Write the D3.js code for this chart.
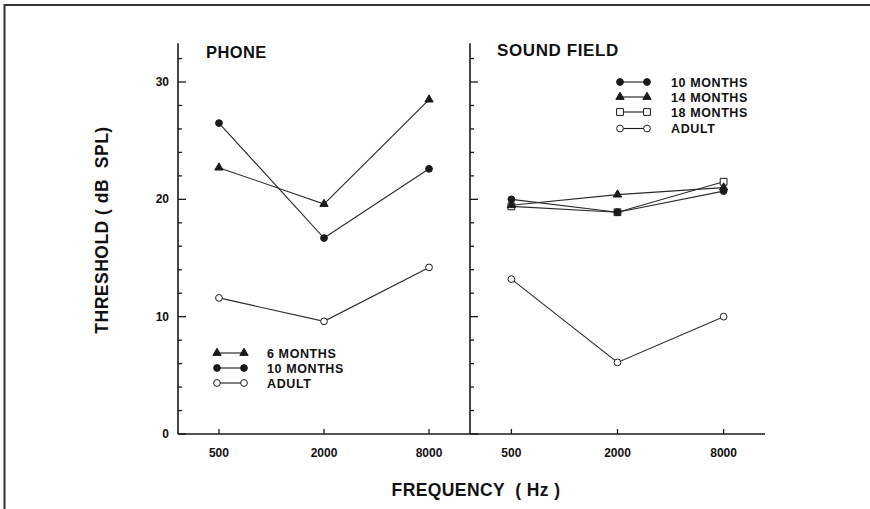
<!DOCTYPE html>
<html>
<head>
<meta charset="utf-8">
<script src="https://cdn.jsdelivr.net/npm/d3@7"></script>
<style>
  html, body { margin: 0; padding: 0; background: #fff; }
  svg { display: block; }
  text { font-family: "Liberation Sans", Arial, sans-serif; font-weight: bold; fill: #111; }
</style>
</head>
<body>
<script>
// Test frequencies (Hz) shared by both panels
const frequencies = ["500", "2000", "8000"];
const yTickValues = [0, 10, 20, 30];

// PHONE panel thresholds (dB SPL)
const phoneLabels = ["6 MONTHS", "10 MONTHS", "ADULT"];
const phone6Months = [22.7, 19.6, 28.5];
const phone10Months = [26.5, 16.7, 22.6];
const phoneAdult = [11.6, 9.6, 14.2];

// SOUND FIELD panel thresholds (dB SPL)
const fieldLabels = ["10 MONTHS", "14 MONTHS", "18 MONTHS", "ADULT"];
const field10Months = [20.0, 18.9, 20.7];
const field14Months = [19.5, 20.4, 21.0];
const field18Months = [19.4, 18.9, 21.5];
const fieldAdult = [13.2, 6.1, 10.0];

const W = 870, H = 509;
const svg = d3.select("body").append("svg").attr("width", W).attr("height", H);

const ink = "#1a1a1a";

// page frame (top and left rules)
svg.append("path")
  .attr("d", `M4.5,${H} V5 H${W}`)
  .attr("fill", "none").attr("stroke", "#333").attr("stroke-width", 2);

// shared vertical scale
const y = d3.scaleLinear().domain([0, 30]).range([434, 82]);
const yAxisTop = 33.3;

// one point scale per panel
const xPhone = d3.scalePoint().domain(frequencies).range([178, 470]).padding(0.39);
const xField = d3.scalePoint().domain(frequencies).range([470, 765]).padding(0.39);

const markers = {
  triangle: { type: d3.symbolTriangle, size: 30, fill: ink },
  dot:      { type: d3.symbolCircle,   size: 36, fill: ink },
  circle:   { type: d3.symbolCircle,   size: 36, fill: "#fff" },
  square:   { type: d3.symbolSquare,   size: 46, fill: "#fff" }
};

function drawPanel(x, left, right, showLabels) {
  const g = svg.append("g");
  // left axis with inward ticks every 2 dB
  const minor = d3.range(0, 34, 2);
  g.append("line")
    .attr("x1", left).attr("x2", left)
    .attr("y1", y(0)).attr("y2", y(yAxisTop))
    .attr("stroke", ink).attr("stroke-width", 1.6);
  g.selectAll(".ytick").data(minor).join("line")
    .attr("x1", left).attr("x2", d => left + (d % 10 === 0 ? 8 : 4))
    .attr("y1", d => y(d)).attr("y2", d => y(d))
    .attr("stroke", ink).attr("stroke-width", 1.3);
  if (showLabels) {
    g.selectAll(".ylab").data(yTickValues).join("text")
      .attr("x", left - 9).attr("y", d => y(d) + 4)
      .attr("text-anchor", "end").attr("font-size", 12)
      .text(d => d);
  }
  // bottom axis with short upward ticks
  g.append("line")
    .attr("x1", left).attr("x2", right)
    .attr("y1", y(0)).attr("y2", y(0))
    .attr("stroke", ink).attr("stroke-width", 1.6);
  g.selectAll(".xtick").data(frequencies).join("line")
    .attr("x1", d => x(d)).attr("x2", d => x(d))
    .attr("y1", y(0)).attr("y2", y(0) - 5)
    .attr("stroke", ink).attr("stroke-width", 1.3);
  g.selectAll(".xlab").data(frequencies).join("text")
    .attr("x", d => x(d)).attr("y", y(0) + 23)
    .attr("text-anchor", "middle").attr("font-size", 12)
    .text(d => d);
  return g;
}

function drawSeries(g, x, values, marker) {
  const pts = values.map((v, i) => [x(frequencies[i]), y(v)]);
  g.append("path")
    .attr("d", d3.line()(pts))
    .attr("fill", "none").attr("stroke", "#2a2a2a").attr("stroke-width", 1.1);
  const m = markers[marker];
  g.selectAll(null).data(pts).join("path")
    .attr("transform", d => `translate(${d[0]},${d[1]})`)
    .attr("d", d3.symbol().type(m.type).size(m.size))
    .attr("fill", m.fill).attr("stroke", ink).attr("stroke-width", 1);
}

function drawLegend(g, entries, x0, y0, dy, textX) {
  entries.forEach((e, i) => {
    const yy = y0 + i * dy[i];
    g.append("line").attr("x1", x0).attr("x2", x0 + 27)
      .attr("y1", yy).attr("y2", yy).attr("stroke", ink).attr("stroke-width", 1.1);
    const m = markers[e.marker];
    [x0, x0 + 27].forEach(px => {
      g.append("path")
        .attr("transform", `translate(${px},${yy})`)
        .attr("d", d3.symbol().type(m.type).size(m.size))
        .attr("fill", m.fill).attr("stroke", ink).attr("stroke-width", 1);
    });
    g.append("text").attr("x", textX).attr("y", yy + 4.5)
      .attr("font-size", 12.5).attr("letter-spacing", 0.6)
      .text(e.label);
  });
}

// PHONE panel
const gPhone = drawPanel(xPhone, 178, 470, true);
drawSeries(gPhone, xPhone, phoneAdult, "circle");
drawSeries(gPhone, xPhone, phone10Months, "dot");
drawSeries(gPhone, xPhone, phone6Months, "triangle");
gPhone.append("text").attr("x", 206).attr("y", 58).attr("font-size", 16.5)
  .attr("letter-spacing", 0.4).text("PHONE");
drawLegend(gPhone, [
  { label: phoneLabels[0], marker: "triangle" },
  { label: phoneLabels[1], marker: "dot" },
  { label: phoneLabels[2], marker: "circle" }
], 217, 353, [15, 15, 15], 267);

// SOUND FIELD panel
const gField = drawPanel(xField, 470, 765, false);
drawSeries(gField, xField, fieldAdult, "circle");
drawSeries(gField, xField, field18Months, "square");
drawSeries(gField, xField, field14Months, "triangle");
drawSeries(gField, xField, field10Months, "dot");
gField.append("text").attr("x", 497).attr("y", 56).attr("font-size", 17)
  .attr("letter-spacing", 0.6).text("SOUND FIELD");
drawLegend(gField, [
  { label: fieldLabels[0], marker: "dot" },
  { label: fieldLabels[1], marker: "triangle" },
  { label: fieldLabels[2], marker: "square" },
  { label: fieldLabels[3], marker: "circle" }
], 620, 82, [15, 15, 15, 15.5], 671);

// axis titles
svg.append("text")
  .attr("transform", `translate(108,230) rotate(-90)`)
  .attr("text-anchor", "middle").attr("font-size", 17.5)
  .attr("letter-spacing", 0.5)
  .attr("xml:space", "preserve")
  .text("THRESHOLD ( dB  SPL)");
svg.append("text")
  .attr("x", 476).attr("y", 496)
  .attr("text-anchor", "middle").attr("font-size", 17.5)
  .attr("letter-spacing", 0.4)
  .attr("xml:space", "preserve")
  .text("FREQUENCY  ( Hz )");
</script>
</body>
</html>
